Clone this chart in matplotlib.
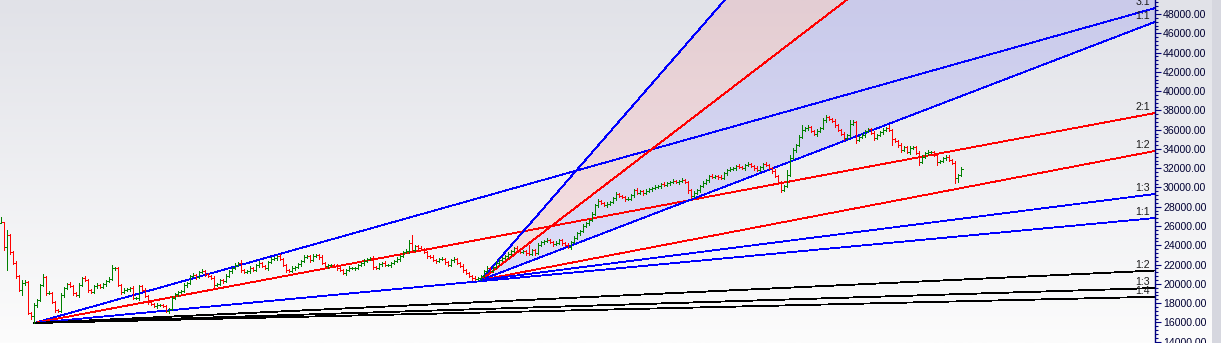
import numpy as np
import matplotlib
matplotlib.use("Agg")
import matplotlib.pyplot as plt
from matplotlib.collections import LineCollection
from matplotlib.ticker import MultipleLocator, FuncFormatter
from matplotlib.patches import Rectangle

# ---------------- data ----------------
first_open = 26320
closes = [
    26420, 23830, 25070, 23310, 22170, 20820, 19370, 20090, 20190, 16980,
    16670, 17810, 18330, 19880, 20710, 19050, 19050, 18120, 17290, 17190,
    18850, 19570, 19990, 19780, 19050, 18850, 19880, 20610, 20400, 19370,
    19160, 19780, 19880, 19680, 19990, 20300, 20510, 21650, 21650, 19880,
    19160, 19370, 19470, 19570, 18540, 18540, 19780, 19370, 18740, 18120,
    17910, 17700, 17810, 17810, 17700, 17190, 17390, 18540, 18950, 19160,
    19260, 19880, 20090, 20820, 20920, 20710, 21230, 21340, 21030, 20820,
    20610, 19880, 19990, 20400, 20300, 20820, 21340, 21650, 21960, 22170,
    21440, 21230, 21340, 21650, 21440, 21960, 22170, 21850, 21650, 22270,
    22580, 22690, 22890, 22580, 21960, 21440, 21340, 21650, 21750, 22060,
    22370, 22790, 22890, 22480, 22890, 23000, 22790, 22170, 21850, 21960,
    21960, 21850, 21650, 21440, 21130, 21440, 21650, 21650, 21650, 21960,
    22170, 22370, 22580, 22690, 21750, 21650, 22060, 22170, 21960, 21960,
    22170, 22370, 22580, 22890, 23310, 23410, 24240, 23520, 23930, 23720,
    23620, 23310, 22890, 22790, 22480, 22370, 22580, 22580, 22270, 21960,
    22480, 22580, 22170, 21850, 21440, 21130, 20820, 20610, 20510, 20610,
    20820, 21340, 21650, 21340, 21750, 22170, 22480, 22690, 22890, 23100,
    23410, 23720, 23520, 23310, 23410, 23200, 23100, 23520, 23200, 24030,
    24350, 24450, 24550, 24350, 24140, 24240, 24550, 24240, 24030, 23830,
    24350, 24760, 25280, 25490, 26000, 26320, 26630, 27250, 28180, 28600,
    28390, 28180, 28290, 28490, 28910, 29330, 29120, 29010, 28810, 28810,
    29220, 29740, 29430, 29640, 29430, 29640, 29840, 29950, 30050, 30160,
    30360, 30260, 30470, 30570, 30670, 30570, 30670, 30780, 30570, 29740,
    29120, 29430, 29740, 30160, 30470, 30780, 31190, 31090, 31190, 31090,
    30990, 31500, 31820, 31920, 32020, 32230, 32130, 32020, 32330, 32440,
    32230, 32020, 31820, 32130, 32440, 32330, 32020, 31710, 31190, 30570,
    29740, 30160, 31300, 33060, 33890, 34410, 35240, 35970, 36170, 36280,
    35860, 35550, 35860, 36170, 37000, 37310, 37110, 36900, 36480, 35970,
    35550, 35140, 35440, 36590, 36800, 34930, 35240, 35440, 35860, 36070,
    35650, 35140, 35440, 35750, 35970, 36170, 35970, 35030, 34820, 34410,
    33890, 34200, 33680, 34100, 34200, 33580, 32640, 33170, 33580, 33680,
    33680, 33370, 32640, 32750, 33060, 33170, 32850, 32540, 30990, 31300,
    31920,
]
upper_wick = [
    520, 0, 520, 100, 150, 200, 100, 310, 200, 150,
    100, 200, 150, 100, 300, 100, 200, 100, 150, 100,
    200, 150, 100, 200, 100, 150, 200, 100, 200, 100,
    150, 100, 200, 100, 150, 100, 200, 300, 100, 150,
    100, 200, 150, 100, 200, 100, 150, 100, 200, 100,
    150, 100, 200, 150, 100, 100, 150, 200, 100, 150,
    100, 200, 150, 100, 200, 100, 150, 200, 100, 150,
    100, 200, 100, 150, 100, 200, 150, 100, 200, 150,
    300, 100, 150, 200, 100, 150, 200, 100, 150, 100,
    200, 150, 100, 200, 100, 150, 100, 200, 100, 150,
    100, 200, 150, 100, 200, 150, 100, 200, 150, 100,
    150, 100, 200, 100, 150, 100, 200, 150, 100, 150,
    100, 200, 150, 100, 200, 100, 150, 100, 200, 100,
    150, 100, 200, 100, 150, 200, 310, 830, 150, 100,
    200, 100, 150, 100, 200, 100, 150, 200, 100, 150,
    100, 200, 150, 100, 200, 100, 150, 100, 200, 100,
    150, 100, 200, 150, 100, 200, 100, 150, 100, 200,
    150, 100, 200, 100, 150, 100, 830, 150, 100, 200,
    150, 100, 200, 100, 150, 200, 100, 150, 100, 200,
    150, 200, 100, 150, 200, 100, 150, 200, 150, 200,
    100, 150, 200, 100, 150, 200, 100, 150, 100, 200,
    150, 100, 200, 150, 100, 200, 150, 100, 200, 150,
    100, 200, 150, 100, 200, 150, 100, 200, 100, 150,
    100, 200, 150, 100, 200, 150, 100, 200, 150, 100,
    200, 150, 100, 200, 150, 100, 200, 150, 100, 200,
    150, 100, 200, 150, 100, 200, 150, 100, 200, 150,
    100, 150, 520, 310, 200, 150, 200, 520, 150, 200,
    150, 100, 200, 150, 200, 210, 150, 100, 200, 150,
    100, 200, 150, 415, 200, 150, 100, 200, 150, 100,
    150, 200, 100, 150, 200, 150, 310, 100, 150, 100,
    200, 150, 100, 200, 150, 100, 200, 150, 100, 200,
    150, 100, 200, 150, 100, 200, 150, 100, 200, 150,
    200,
]
lower_wick = [
    0, 300, 2390, 200, 150, 200, 150, 500, 200, 150,
    300, 730, 200, 100, 150, 200, 150, 100, 200, 150,
    150, 200, 100, 150, 200, 100, 200, 150, 100, 200,
    100, 150, 200, 100, 150, 200, 100, 150, 200, 100,
    200, 150, 100, 200, 150, 100, 200, 150, 100, 200,
    150, 100, 200, 150, 100, 150, 200, 100, 150, 200,
    150, 100, 200, 150, 100, 200, 150, 100, 200, 150,
    100, 200, 150, 100, 200, 150, 100, 200, 150, 100,
    200, 150, 100, 200, 150, 100, 200, 150, 100, 200,
    150, 100, 200, 150, 100, 200, 150, 100, 200, 150,
    200, 100, 150, 200, 100, 150, 200, 100, 150, 200,
    100, 150, 200, 100, 150, 200, 100, 150, 200, 100,
    150, 200, 100, 150, 200, 100, 150, 200, 100, 150,
    200, 100, 150, 200, 100, 150, 200, 150, 100, 200,
    150, 100, 200, 150, 100, 200, 150, 100, 200, 150,
    100, 200, 150, 100, 200, 150, 100, 200, 150, 100,
    210, 150, 100, 200, 150, 100, 200, 150, 100, 200,
    150, 100, 200, 150, 100, 200, 150, 100, 200, 150,
    100, 200, 150, 100, 200, 150, 100, 200, 150, 100,
    200, 150, 100, 200, 150, 100, 200, 150, 100, 200,
    150, 100, 200, 150, 100, 200, 150, 100, 200, 150,
    100, 200, 150, 100, 200, 150, 100, 200, 150, 100,
    200, 150, 100, 200, 150, 100, 200, 150, 100, 300,
    210, 150, 100, 200, 150, 100, 200, 150, 100, 200,
    150, 100, 200, 150, 100, 200, 150, 100, 200, 150,
    100, 200, 150, 100, 200, 150, 100, 200, 150, 100,
    210, 150, 100, 100, 150, 200, 100, 150, 100, 200,
    150, 100, 200, 150, 100, 200, 150, 100, 200, 150,
    100, 200, 150, 210, 100, 310, 150, 100, 200, 150,
    100, 200, 150, 100, 200, 150, 100, 620, 150, 200,
    210, 150, 100, 200, 150, 100, 310, 150, 100, 200,
    150, 100, 310, 150, 100, 200, 150, 100, 520, 415,
    150,
]

# Gann fans: origin bar index, origin price, 1x1 slope (price per bar)
fan1_origin = (11, 15940)
fan1_unit = 29.15
fan1_ratios = [3, 2, 1, 1 / 2, 1 / 3, 1 / 4]
fan1_labels = ["3:1", "2:1", "1:1", "1:2", "1:3", "1:4"]
fan1_colors = ["#0000ff", "#ff0000", "#0000ff", "#000000", "#000000", "#000000"]

fan2_origin = (160, 20400)
fan2_unit = 119.2
fan2_ratios = [3, 2, 1, 1 / 2, 1 / 3]
fan2_labels = ["3:1", "2:1", "1:1", "1:2", "1:3"]
fan2_colors = ["#0000ff", "#ff0000", "#0000ff", "#ff0000", "#0000ff"]

ytick_step = 2000

# ---------------- figure ----------------
W, H = 1221, 343
fig = plt.figure(figsize=(W / 100, H / 100), dpi=100)

bg = fig.add_axes([0, 0, 1, 1])
bg.axis("off")
t = np.linspace(0, 1, 256)[:, None, None]
top = np.array([0xe1, 0xe2, 0xe8]) / 255.0
bot = np.array([0xfc, 0xfc, 0xfc]) / 255.0
img = top[None, None, :] * (1 - t) + bot[None, None, :] * t
bg.imshow(img, aspect="auto", extent=[0, 1, 0, 1], origin="upper")
bg.set_xlim(0, 1)
bg.set_ylim(0, 1)
fig.add_artist(Rectangle((1212 / W, 0), 9 / W, 1, transform=fig.transFigure,
                         facecolor="#d6d7df", edgecolor="none"))

ax = fig.add_axes([0, 0, 1155 / W, 1])
ax.set_facecolor("none")
XMAX = 384.667
ax.set_xlim(-1 / 3, XMAX)
ax.set_ylim(13866, 49452)

n = len(closes)
assert len(upper_wick) == n and len(lower_wick) == n, (n, len(upper_wick), len(lower_wick))
closes_a = np.array(closes, float)
opens_a = np.concatenate([[first_open], closes_a[:-1]])
highs_a = np.maximum(opens_a, closes_a) + np.array(upper_wick, float)
lows_a = np.minimum(opens_a, closes_a) - np.array(lower_wick, float)
idx = np.arange(n)


def fan_lines(origin, unit, ratios, labels, colors):
    k0, p0 = origin
    xs = np.array([k0, XMAX])
    for r, lab, c in zip(ratios, labels, colors):
        ys = p0 + unit * r * (xs - k0)
        ax.plot(xs, ys, color=c, lw=0.6, zorder=2, solid_capstyle="butt",
                antialiased=False)
        if ys[-1] < 49452:
            ax.text(XMAX - 1.7, ys[-1] + 3 * 103.75, lab, ha="right", va="baseline",
                    fontsize=7.6, color="#1a1a1a", family="Liberation Sans",
                    zorder=4, clip_on=False)


# shaded sectors of second fan
k2, p2 = fan2_origin
xf = np.linspace(k2, XMAX, 300)
y3 = p2 + fan2_unit * fan2_ratios[0] * (xf - k2)
y2 = p2 + fan2_unit * fan2_ratios[1] * (xf - k2)
y1 = p2 + fan2_unit * fan2_ratios[2] * (xf - k2)
ax.fill_between(xf, y2, y3, color="#ff0000", alpha=0.09, lw=0, zorder=1)
ax.fill_between(xf, y1, y2, color="#0000ff", alpha=0.10, lw=0, zorder=1)

fan_lines(fan1_origin, fan1_unit, fan1_ratios, fan1_labels, fan1_colors)
fan_lines(fan2_origin, fan2_unit, fan2_ratios, fan2_labels, fan2_colors)

# OHLC bars
segs, cols = [], []
tk = 0.6
for i in idx:
    c = "#008000" if closes_a[i] >= opens_a[i] else "#ff0000"
    segs.append([(i, lows_a[i]), (i, highs_a[i])])
    segs.append([(i - tk, opens_a[i]), (i, opens_a[i])])
    segs.append([(i, closes_a[i]), (i + tk, closes_a[i])])
    cols += [c, c, c]
ax.add_collection(LineCollection(segs, colors=cols, linewidths=0.7, zorder=3,
                                 capstyle="butt", antialiaseds=False))

# axes styling
for s in ["left", "top", "bottom"]:
    ax.spines[s].set_visible(False)
ax.spines["right"].set_color("#000080")
ax.spines["right"].set_linewidth(1.0)
ax.set_xticks([])
ax.yaxis.tick_right()
ax.yaxis.set_major_locator(MultipleLocator(ytick_step))
ax.yaxis.set_minor_locator(MultipleLocator(ytick_step / 5))
ax.yaxis.set_major_formatter(FuncFormatter(lambda v, p: f"{v:.2f}"))
ax.tick_params(axis="y", which="major", direction="out", length=4.3, width=0.8,
               color="#000080", pad=1.5, labelsize=7.6, labelcolor="#000033")
ax.tick_params(axis="y", which="minor", direction="out", length=2.2, width=0.8,
               color="#000080")
for lbl in ax.get_yticklabels():
    lbl.set_family("Liberation Sans")

fig.savefig("out.png", dpi=100)
